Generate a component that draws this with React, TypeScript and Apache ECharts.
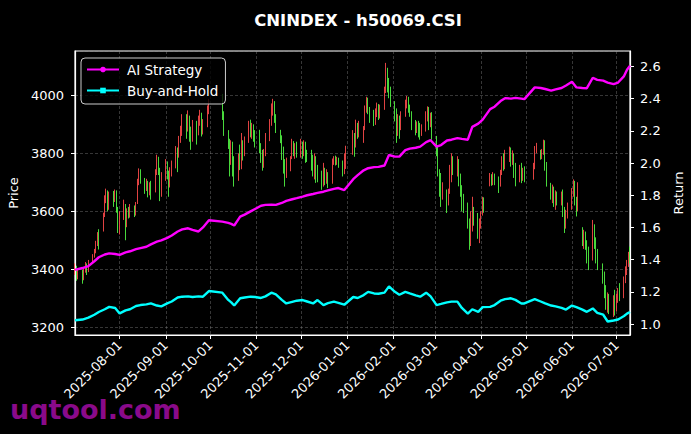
import React, { useEffect, useRef } from "react";
import * as echarts from "echarts";

const TITLE = "CNINDEX - h50069.CSI";
const WATERMARK = "uqtool.com";
const SERIES_NAMES = ["AI Strategy", "Buy-and-Hold"];
const AXIS_NAMES = ["Price", "Return"];

// Daily candles, grouped by trading week: [first trading day, [[open, close, low, high], ...]]
const candleWeeks: [string, number[][]][] = [
  ["2025-07-02", [[3395,3410,3380,3420],[3405,3380,3360,3412],[3378,3395,3365,3402]]],
  ["2025-07-07", [[3390,3372,3350,3398],[3370,3395,3362,3405],[3398,3415,3388,3425],[3412,3392,3380,3420],[3395,3425,3390,3432]]],
  ["2025-07-14", [[3425,3445,3418,3452],[3448,3462,3440,3470],[3465,3490,3455,3498],[3492,3515,3480,3528],[3512,3500,3468,3538]]],
  ["2025-07-21", [[3540,3585,3530,3595],[3590,3640,3580,3655],[3645,3668,3628,3678],[3660,3620,3600,3672],[3618,3655,3605,3668]]],
  ["2025-07-28", [[3655,3640,3615,3670],[3640,3668,3632,3675],[3665,3610,3595,3672],[3605,3560,3525,3615],[3560,3585,3520,3600]]],
  ["2025-08-04", [[3585,3620,3570,3640],[3615,3560,3500,3625],[3560,3595,3545,3610],[3598,3585,3575,3615],[3585,3605,3578,3625]]],
  ["2025-08-11", [[3600,3590,3580,3620],[3592,3625,3585,3632],[3630,3700,3625,3712],[3700,3735,3690,3748],[3732,3710,3695,3745]]],
  ["2025-08-18", [[3708,3680,3660,3715],[3680,3700,3670,3712],[3698,3665,3648,3705],[3665,3690,3655,3700],[3690,3672,3640,3705]]],
  ["2025-08-25", [[3675,3730,3665,3745],[3735,3780,3725,3795],[3778,3740,3725,3788],[3738,3690,3635,3750],[3690,3720,3650,3735]]],
  ["2025-09-01", [[3720,3765,3705,3780],[3762,3730,3710,3772],[3728,3690,3650,3740],[3692,3740,3682,3752],[3738,3765,3720,3775]]],
  ["2025-09-08", [[3765,3810,3748,3825],[3808,3790,3735,3820],[3792,3845,3785,3860],[3845,3870,3836,3895],[3870,3915,3860,3935]]],
  ["2025-09-15", [[3912,3890,3850,3935],[3888,3925,3875,3948],[3922,3880,3840,3930],[3880,3845,3812,3892],[3848,3900,3840,3915]]],
  ["2025-09-22", [[3900,3870,3830,3912],[3872,3915,3862,3930],[3912,3935,3895,3950],[3932,3880,3858,3940],[3880,3905,3865,3918]]],
  ["2025-09-29", [[3905,3950,3890,3965],[3948,3975,3935,3988]]],
  ["2025-10-09", [[3975,3930,3915,4005],[3930,3880,3860,3945]]],
  ["2025-10-13", [[3870,3835,3815,3880],[3830,3800,3720,3850],[3795,3835,3760,3845],[3832,3760,3720,3840],[3758,3710,3685,3790]]],
  ["2025-10-20", [[3715,3780,3705,3800],[3780,3750,3742,3830],[3752,3835,3745,3870],[3832,3800,3775,3845],[3800,3845,3790,3858]]],
  ["2025-10-27", [[3845,3900,3836,3912],[3898,3870,3855,3916],[3870,3895,3850,3905],[3893,3865,3840,3900],[3865,3850,3820,3880]]],
  ["2025-11-03", [[3850,3820,3800,3881],[3822,3790,3767,3835],[3790,3760,3740,3812],[3760,3800,3750,3815],[3800,3850,3790,3870]]],
  ["2025-11-10", [[3850,3905,3842,3918],[3905,3950,3895,3972],[3948,3975,3930,3988],[3972,3925,3905,3980],[3925,3890,3870,3935]]],
  ["2025-11-17", [[3888,3850,3835,3881],[3850,3800,3777,3862],[3800,3760,3730,3823],[3760,3720,3685,3780],[3722,3760,3715,3785]]],
  ["2025-11-24", [[3758,3785,3738,3790],[3785,3830,3780,3850],[3830,3800,3790,3842],[3800,3820,3781,3835],[3818,3795,3785,3840]]],
  ["2025-12-01", [[3795,3830,3785,3850],[3828,3800,3781,3840],[3800,3835,3790,3845],[3835,3805,3767,3840],[3805,3790,3770,3812]]],
  ["2025-12-08", [[3790,3760,3740,3812],[3760,3730,3720,3795],[3728,3775,3710,3800],[3775,3745,3698,3790],[3745,3720,3700,3760]]],
  ["2025-12-15", [[3720,3695,3674,3740],[3695,3740,3685,3767],[3740,3705,3690,3750],[3705,3725,3695,3745],[3725,3700,3680,3735]]],
  ["2025-12-22", [[3700,3770,3695,3782],[3770,3785,3760,3790],[3785,3768,3758,3792],[3766,3780,3760,3788],[3780,3762,3750,3785]]],
  ["2025-12-29", [[3762,3735,3720,3775],[3735,3790,3728,3800],[3790,3815,3746,3826]]],
  ["2026-01-05", [[3810,3860,3795,3880],[3860,3830,3788,3870],[3830,3895,3820,3916],[3895,3870,3850,3905],[3870,3900,3855,3912]]],
  ["2026-01-12", [[3850,3885,3836,3894],[3890,3950,3880,3965],[3955,3985,3940,3995],[3985,3950,3935,3992],[3950,3920,3905,3960]]],
  ["2026-01-19", [[3925,3910,3894,3950],[3910,3940,3898,3955],[3940,3965,3925,3975],[3962,3930,3915,3970],[3930,3955,3920,3968]]],
  ["2026-01-26", [[3958,4010,3950,4030],[4015,4080,4008,4112],[4075,4045,4010,4095],[4045,4020,3990,4060],[4020,3980,3960,4030]]],
  ["2026-02-02", [[3975,3940,3910,3980],[3940,3880,3836,3955],[3880,3920,3860,3935],[3918,3890,3850,3930],[3890,3935,3880,3945]]],
  ["2026-02-09", [[3935,3970,3926,3985],[3970,3990,3955,3998],[3988,3955,3940,3995],[3955,3935,3926,3968],[3935,3905,3880,3945]]],
  ["2026-02-16", [[3905,3880,3862,3915],[3880,3900,3870,3910],[3900,3875,3855,3912],[3875,3870,3847,3905],[3870,3890,3860,3900]]],
  ["2026-02-23", [[3890,3930,3875,3945],[3930,3955,3910,3962],[3955,3905,3880,3960],[3905,3935,3890,3940],[3935,3870,3847,3942]]],
  ["2026-03-02", [[3865,3800,3790,3860],[3800,3740,3720,3823],[3740,3700,3650,3745],[3700,3650,3615,3732],[3650,3690,3640,3700]]],
  ["2026-03-09", [[3690,3640,3594,3675],[3640,3670,3620,3678],[3670,3745,3660,3760],[3745,3780,3700,3800],[3778,3740,3725,3790]]],
  ["2026-03-16", [[3740,3770,3720,3790],[3770,3725,3686,3780],[3722,3680,3650,3730],[3680,3640,3600,3690],[3640,3615,3594,3660]]],
  ["2026-03-23", [[3615,3560,3540,3630],[3560,3490,3467,3575],[3490,3540,3480,3600],[3540,3600,3530,3650],[3600,3570,3550,3615]]],
  ["2026-03-30", [[3570,3520,3505,3594],[3520,3560,3490,3575],[3560,3590,3540,3600],[3590,3640,3585,3650],[3638,3610,3595,3648]]],
  ["2026-04-07", [[3690,3715,3686,3732],[3715,3700,3688,3728],[3700,3725,3690,3735],[3722,3705,3690,3730]]],
  ["2026-04-13", [[3705,3690,3663,3720],[3690,3730,3685,3743],[3730,3770,3725,3790],[3770,3745,3740,3800],[3748,3790,3745,3812]]],
  ["2026-04-20", [[3790,3815,3770,3823],[3812,3775,3754,3820],[3775,3795,3760,3810],[3795,3730,3715,3800],[3730,3710,3686,3767]]],
  ["2026-04-27", [[3712,3745,3700,3760],[3745,3720,3697,3767],[3720,3740,3705,3750],[3738,3715,3700,3755]]],
  ["2026-05-06", [[3718,3750,3709,3767],[3750,3810,3745,3825],[3810,3825,3800,3836]]],
  ["2026-05-11", [[3822,3795,3778,3812],[3795,3805,3780,3815],[3805,3840,3795,3847],[3838,3760,3740,3845],[3760,3700,3685,3770]]],
  ["2026-05-18", [[3700,3665,3640,3698],[3665,3680,3628,3692],[3678,3645,3615,3685],[3645,3660,3605,3672],[3660,3640,3620,3668]]],
  ["2026-05-25", [[3640,3655,3620,3668],[3655,3600,3580,3675],[3600,3555,3525,3615],[3555,3590,3540,3605],[3590,3620,3575,3630]]],
  ["2026-06-01", [[3620,3665,3605,3680],[3665,3700,3650,3710],[3698,3640,3620,3705],[3640,3610,3582,3650],[3610,3660,3600,3700]]],
  ["2026-06-08", [[3540,3500,3480,3545],[3500,3525,3470,3536],[3525,3490,3467,3530],[3490,3450,3420,3500],[3450,3410,3397,3478]]],
  ["2026-06-15", [[3440,3540,3430,3570],[3540,3500,3470,3555],[3500,3450,3420,3510],[3450,3420,3397,3470]]],
  ["2026-06-22", [[3410,3380,3350,3420],[3380,3330,3300,3392],[3330,3290,3260,3345],[3290,3300,3250,3320],[3300,3270,3245,3315]]],
  ["2026-06-29", [[3270,3290,3235,3310],[3290,3260,3240,3329],[3262,3300,3255,3315],[3300,3320,3284,3335],[3320,3305,3290,3352]]],
  ["2026-07-06", [[3305,3360,3300,3375],[3360,3395,3352,3410],[3395,3420,3380,3432],[3420,3445,3408,3460],[3445,3440,3420,3478]]],
];

// Cumulative return curves (sampled trading days)
const lineDates = [
  "2025-07-02","2025-07-07","2025-07-11","2025-07-15","2025-07-18","2025-07-22","2025-07-25","2025-07-29","2025-08-01","2025-08-05",
  "2025-08-08","2025-08-12","2025-08-15","2025-08-19","2025-08-22","2025-08-26","2025-08-29","2025-09-02","2025-09-05","2025-09-09",
  "2025-09-12","2025-09-16","2025-09-19","2025-09-23","2025-09-26","2025-09-30","2025-10-09","2025-10-13","2025-10-15","2025-10-17",
  "2025-10-21","2025-10-24","2025-10-28","2025-10-31","2025-11-04","2025-11-07","2025-11-11","2025-11-14","2025-11-18","2025-11-21",
  "2025-11-25","2025-11-28","2025-12-02","2025-12-05","2025-12-09","2025-12-12","2025-12-16","2025-12-19","2025-12-23","2025-12-26",
  "2025-12-30","2026-01-05","2026-01-08","2026-01-12","2026-01-15","2026-01-19","2026-01-22","2026-01-26","2026-01-29","2026-02-02",
  "2026-02-05","2026-02-09","2026-02-12","2026-02-16","2026-02-19","2026-02-23","2026-02-26","2026-03-02","2026-03-05","2026-03-09",
  "2026-03-12","2026-03-16","2026-03-19","2026-03-23","2026-03-26","2026-03-30","2026-04-02","2026-04-07","2026-04-10","2026-04-14",
  "2026-04-17","2026-04-21","2026-04-24","2026-04-28","2026-04-30","2026-05-07","2026-05-11","2026-05-14","2026-05-18","2026-05-21",
  "2026-05-25","2026-05-28","2026-06-01","2026-06-04","2026-06-08","2026-06-11","2026-06-15","2026-06-18","2026-06-22","2026-06-25",
  "2026-06-29","2026-07-02","2026-07-06","2026-07-08","2026-07-10",
];
const aiReturn = [
  1.336,1.348,1.36,1.39,1.415,1.432,1.439,1.435,1.43,1.445,
  1.452,1.465,1.472,1.48,1.495,1.512,1.52,1.535,1.55,1.575,
  1.588,1.595,1.585,1.575,1.60,1.645,1.636,1.628,1.622,1.612,
  1.667,1.68,1.70,1.715,1.735,1.74,1.742,1.74,1.752,1.765,
  1.775,1.782,1.792,1.80,1.808,1.815,1.822,1.83,1.84,1.845,
  1.832,1.90,1.925,1.955,1.968,1.975,1.976,1.985,2.05,2.04,
  2.04,2.08,2.09,2.095,2.102,2.13,2.142,2.102,2.112,2.14,
  2.145,2.155,2.15,2.145,2.225,2.245,2.27,2.335,2.35,2.385,
  2.403,2.40,2.405,2.40,2.397,2.47,2.466,2.46,2.45,2.458,
  2.466,2.482,2.505,2.47,2.466,2.465,2.53,2.517,2.512,2.50,
  2.49,2.50,2.54,2.58,2.605,
];
const bhReturn = [
  1.024,1.028,1.04,1.058,1.075,1.092,1.107,1.10,1.066,1.085,
  1.092,1.112,1.118,1.122,1.128,1.115,1.11,1.128,1.14,1.165,
  1.17,1.172,1.168,1.172,1.17,1.205,1.195,1.15,1.135,1.115,
  1.16,1.165,1.17,1.168,1.162,1.172,1.195,1.185,1.15,1.128,
  1.138,1.145,1.149,1.14,1.128,1.149,1.118,1.13,1.139,1.132,
  1.12,1.168,1.162,1.18,1.20,1.19,1.188,1.195,1.234,1.20,
  1.182,1.20,1.19,1.178,1.17,1.195,1.172,1.118,1.125,1.135,
  1.139,1.139,1.10,1.065,1.092,1.076,1.105,1.107,1.118,1.145,
  1.155,1.16,1.15,1.128,1.128,1.155,1.14,1.128,1.115,1.11,
  1.10,1.09,1.115,1.105,1.09,1.076,1.097,1.07,1.058,1.016,
  1.022,1.028,1.05,1.065,1.075,
];

const X_RANGE = ["2025-07-02", "2026-07-10"];
const PRICE_RANGE = [3173, 4153];
const PRICE_STEP = 200;
const RETURN_RANGE = [0.932, 2.696];
const RETURN_STEP = 0.2;

const FONT = "DejaVu Sans";
const UP = "rgba(255,75,75,0.88)";
const DOWN = "rgba(85,255,70,0.85)";
const GRID_LINE = { color: "rgba(150,150,150,0.45)", type: [3, 2] as number[], width: 0.8 };

function localTime(s: string, addDays = 0): number {
  const [y, m, d] = s.split("-").map(Number);
  return new Date(y, m - 1, d + addDays).getTime();
}
function fmtDate(v: number): string {
  const d = new Date(v);
  const p = (n: number) => (n < 10 ? "0" + n : "" + n);
  return `${d.getFullYear()}-${p(d.getMonth() + 1)}-${p(d.getDate())}`;
}

export default function App() {
  const ref = useRef<HTMLDivElement>(null);
  useEffect(() => {
    if (!ref.current) return;
    const chart = echarts.init(ref.current, null, { renderer: "svg" });

    const candles: any[] = [];
    candleWeeks.forEach(([start, days]) => {
      days.forEach((v, i) => candles.push([localTime(start, i), v[0], v[1], v[2], v[3]]));
    });
    const aiData = lineDates.map((d, i) => [localTime(d), aiReturn[i]]);
    const bhData = lineDates.map((d, i) => [localTime(d), bhReturn[i]]);

    const axisText = { color: "#ffffff", fontSize: 13, fontFamily: FONT };

    chart.setOption({
      animation: false,
      backgroundColor: "#000000",
      textStyle: { fontFamily: FONT },
      title: {
        text: TITLE,
        left: 353,
        textAlign: "center",
        top: 7,
        textStyle: { color: "#ffffff", fontSize: 16.5, fontWeight: "bold", fontFamily: FONT },
      },
      grid: {
        left: 75, right: 61, top: 51, bottom: 99,
        show: true, borderColor: "#ffffff", borderWidth: 1.2,
        containLabel: false, outerBoundsMode: "none",
      },
      legend: {
        data: SERIES_NAMES,
        orient: "vertical",
        left: 81, top: 58,
        itemWidth: 32, itemHeight: 7, itemGap: 6,
        padding: [4, 7, 6, 5],
        backgroundColor: "rgba(0,0,0,0.8)",
        borderColor: "#cccccc", borderWidth: 1, borderRadius: 4,
        textStyle: { color: "#ffffff", fontSize: 13.5, fontFamily: FONT, lineHeight: 15, padding: [0, 0, 0, 3] },
      },
      xAxis: {
        type: "time",
        min: localTime(X_RANGE[0]),
        max: localTime(X_RANGE[1]),
        splitNumber: 12,
        axisLine: { show: true, lineStyle: { color: "#ffffff", width: 1.2 } },
        axisTick: { show: true, length: 4, lineStyle: { color: "#ffffff" } },
        axisLabel: {
          ...axisText, rotate: 45, margin: 8,
          formatter: (v: number) => fmtDate(v),
          showMinLabel: false, showMaxLabel: false, hideOverlap: false,
        },
        splitLine: { show: true, lineStyle: GRID_LINE },
      },
      yAxis: [
        {
          type: "value", position: "left",
          min: PRICE_RANGE[0], max: PRICE_RANGE[1],
          minInterval: PRICE_STEP, maxInterval: PRICE_STEP,
          name: AXIS_NAMES[0], nameLocation: "middle", nameGap: 42, nameRotate: 90,
          nameTextStyle: axisText,
          axisLine: { show: true, lineStyle: { color: "#ffffff", width: 1.2 } },
          axisTick: { show: true, length: 4, lineStyle: { color: "#ffffff" } },
          axisLabel: {
            ...axisText, margin: 11, showMinLabel: false, showMaxLabel: false,
            formatter: (v: number) => String(v),
          },
          splitLine: { show: true, lineStyle: GRID_LINE },
        },
        {
          type: "value", position: "right",
          min: RETURN_RANGE[0], max: RETURN_RANGE[1],
          minInterval: RETURN_STEP, maxInterval: RETURN_STEP,
          name: AXIS_NAMES[1], nameLocation: "middle", nameGap: 30, nameRotate: 90,
          nameTextStyle: axisText,
          axisLine: { show: true, lineStyle: { color: "#ffffff", width: 1.2 } },
          axisTick: { show: true, length: 4, lineStyle: { color: "#ffffff" } },
          axisLabel: {
            ...axisText, margin: 10, showMinLabel: false, showMaxLabel: false,
            formatter: (v: number) => v.toFixed(1),
          },
          splitLine: { show: false },
        },
      ],
      series: [
        {
          type: "candlestick",
          name: AXIS_NAMES[0],
          xAxisIndex: 0, yAxisIndex: 0,
          data: candles,
          barWidth: 1.3,
          itemStyle: { color: UP, color0: DOWN, borderColor: UP, borderColor0: DOWN, borderWidth: 1 },
          z: 2,
        },
        {
          type: "line",
          name: SERIES_NAMES[0],
          yAxisIndex: 1,
          data: aiData,
          color: "#ff00ff",
          symbol: "circle",
          showSymbol: false,
          lineStyle: { width: 2.4, color: "#ff00ff" },
          z: 3,
        },
        {
          type: "line",
          name: SERIES_NAMES[1],
          yAxisIndex: 1,
          data: bhData,
          color: "#00ffff",
          symbol: "rect",
          showSymbol: false,
          lineStyle: { width: 2.4, color: "#00ffff" },
          z: 3,
        },
      ],
      graphic: [
        {
          type: "text",
          left: 10,
          top: 396,
          z: 0,
          style: { text: WATERMARK, fill: "#8a0a8a", font: `bold 27px "${FONT}"` },
        },
      ],
    });
    return () => chart.dispose();
  }, []);
  return <div ref={ref} style={{ position: "absolute", left: 0, top: 0, width: 691, height: 434 }} />;
}
